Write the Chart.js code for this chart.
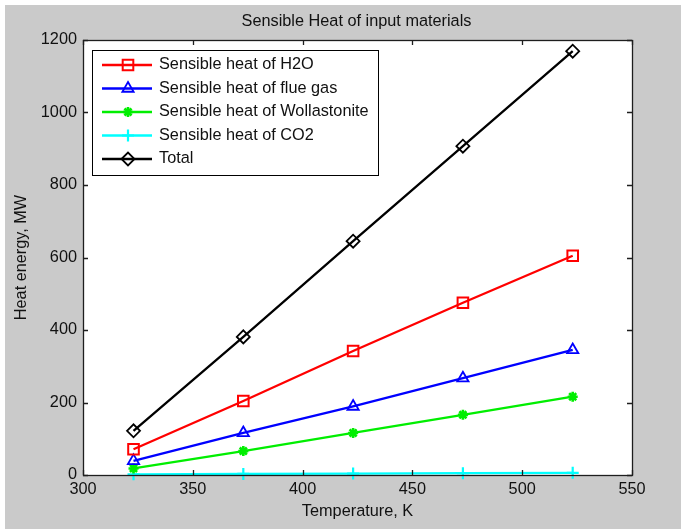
<!DOCTYPE html>
<html><head><meta charset="utf-8">
<script src="https://cdn.jsdelivr.net/npm/chart.js@4"></script>
<style>
html,body{margin:0;padding:0;background:#fff;}
#wrap{position:absolute;left:5px;top:5px;width:676px;height:524px;background:#cacaca;}
canvas{display:block;}
</style></head><body>
<div id="wrap"><canvas id="c" width="676" height="524"></canvas></div>
<script>
const temperatures = [323, 373, 423, 473, 523];
const h2o = [71, 204, 342, 475, 605];
const flueGas = [39, 116, 189, 267, 345];
const wollastonite = [18, 66, 116, 166, 216];
const co2 = [2, 3, 4, 5, 6];
const total = [122, 381, 645, 907, 1169];
const seriesLabels = ['Sensible heat of H2O', 'Sensible heat of flue gas', 'Sensible heat of Wollastonite', 'Sensible heat of CO2', 'Total'];
const xTicks = [300, 350, 400, 450, 500, 550];
const yTicks = [0, 200, 400, 600, 800, 1000, 1200];
const titleText = 'Sensible Heat of input materials';
const xTitle = 'Temperature, K';
const yTitle = 'Heat energy, MW';

const FONT = '"Liberation Sans", Arial, Helvetica, sans-serif';
const FSIZE = 16.3;
const styles = [
  {color:'#ff0000', pointStyle:'rect', radius:7.5, bw:2},
  {color:'#0000ff', pointStyle:'triangle', radius:6.5, bw:1.8},
  {color:'#00ee00', pointStyle:'star', radius:5, bw:2.6},
  {color:'#00ffff', pointStyle:'cross', radius:6, bw:2.2},
  {color:'#000000', pointStyle:'rectRot', radius:6.5, bw:1.8}
];
const seriesValues = [h2o, flueGas, wollastonite, co2, total];

const datasets = seriesValues.map((vals, i) => ({
  label: seriesLabels[i],
  data: temperatures.map((t, j) => ({x: t, y: vals[j]})),
  borderColor: styles[i].color,
  backgroundColor: 'rgba(0,0,0,0)',
  pointBackgroundColor: 'rgba(0,0,0,0)',
  pointBorderColor: styles[i].color,
  pointStyle: styles[i].pointStyle,
  pointRadius: styles[i].radius,
  pointBorderWidth: styles[i].bw,
  borderWidth: 2.3,
  tension: 0,
  fill: false,
  clip: false
}));

const decor = {
  id: 'decor',
  beforeDraw(chart) {
    const {ctx, chartArea: a} = chart;
    ctx.save();
    ctx.fillStyle = '#ffffff';
    ctx.fillRect(a.left, a.top, a.right - a.left, a.bottom - a.top);
    ctx.restore();
  },
  afterDraw(chart) {
    const {ctx, chartArea: a, scales} = chart;
    ctx.save();
    // axes box
    ctx.strokeStyle = '#1e1e1e';
    ctx.lineWidth = 1.3;
    ctx.strokeRect(a.left + 0.5, a.top + 0.5, a.right - a.left, a.bottom - a.top);
    // inward ticks
    const tl = 5;
    ctx.beginPath();
    xTicks.forEach(v => {
      const px = Math.round(scales.x.getPixelForValue(v)) + 0.5;
      ctx.moveTo(px, a.bottom); ctx.lineTo(px, a.bottom - tl);
      ctx.moveTo(px, a.top); ctx.lineTo(px, a.top + tl);
    });
    yTicks.forEach(v => {
      const py = Math.round(scales.y.getPixelForValue(v)) + 0.5;
      ctx.moveTo(a.left, py); ctx.lineTo(a.left + tl, py);
      ctx.moveTo(a.right, py); ctx.lineTo(a.right - tl, py);
    });
    ctx.stroke();

    // titles
    ctx.fillStyle = '#111';
    ctx.font = FSIZE + 'px ' + FONT;
    ctx.textAlign = 'center';
    ctx.textBaseline = 'middle';
    const cx = (a.left + a.right) / 2;
    ctx.fillText(titleText, cx - 1, 17);
    ctx.fillText(xTitle, cx, 507);
    ctx.save();
    ctx.translate(17, (a.top + a.bottom) / 2);
    ctx.rotate(-Math.PI / 2);
    ctx.fillText(yTitle, 0, 0);
    ctx.restore();

    // legend
    const lx = a.left + 9, ly = a.top + 10, lw = 286, lh = 125;
    ctx.fillStyle = '#ffffff';
    ctx.fillRect(lx, ly, lw, lh);
    ctx.strokeStyle = '#000';
    ctx.lineWidth = 1;
    ctx.strokeRect(lx + 0.5, ly + 0.5, lw, lh);
    chart.data.datasets.forEach((ds, i) => {
      const y = ly + 15 + i * 23.5;
      ctx.strokeStyle = ds.borderColor;
      ctx.lineWidth = 2.3;
      ctx.beginPath();
      ctx.moveTo(lx + 10, y); ctx.lineTo(lx + 60, y);
      ctx.stroke();
      ctx.fillStyle = 'rgba(0,0,0,0)';
      ctx.lineWidth = ds.pointBorderWidth;
      if (Chart.helpers && Chart.helpers.drawPoint) {
        Chart.helpers.drawPoint(ctx, {pointStyle: ds.pointStyle, radius: ds.pointRadius, borderWidth: ds.pointBorderWidth, rotation: 0}, lx + 36, y);
      }
      ctx.fillStyle = '#111';
      ctx.font = FSIZE + 'px ' + FONT;
      ctx.textAlign = 'left';
      ctx.textBaseline = 'middle';
      ctx.fillText(ds.label, lx + 67, y);
    });
    ctx.restore();
  }
};

new Chart(document.getElementById('c'), {
  type: 'line',
  data: {datasets},
  options: {
    responsive: false,
    animation: false,
    devicePixelRatio: 1,
    layout: {padding: {left: 0, right: 49, top: 35, bottom: 0}},
    plugins: {legend: {display: false}, tooltip: {enabled: false}, title: {display: false}},
    scales: {
      x: {
        type: 'linear', min: 300, max: 550,
        afterBuildTicks: s => { s.ticks = xTicks.map(v => ({value: v})); },
        afterFit: s => { s.height = 54; },
        grid: {display: false, drawTicks: false},
        border: {display: false},
        ticks: {font: {family: FONT, size: FSIZE}, color: '#111', padding: 5, maxRotation: 0, autoSkip: false, callback: v => String(v)}
      },
      y: {
        type: 'linear', min: 0, max: 1200,
        afterBuildTicks: s => { s.ticks = yTicks.map(v => ({value: v})); },
        afterFit: s => { s.width = 78; },
        grid: {display: false, drawTicks: false},
        border: {display: false},
        ticks: {font: {family: FONT, size: FSIZE}, color: '#111', padding: 6, autoSkip: false, callback: v => String(v)}
      }
    }
  },
  plugins: [decor]
});
</script>
</body></html>
